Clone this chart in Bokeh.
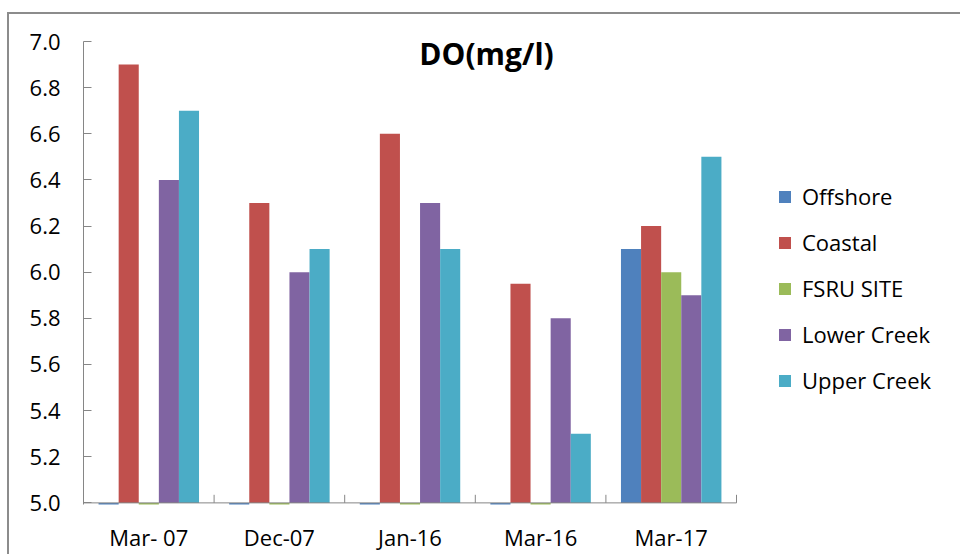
import numpy as np
from bokeh.plotting import figure
from bokeh.models import (Range1d, FixedTicker, NumeralTickFormatter, Label,
                          Legend, LegendItem)
from bokeh.embed import file_html
from bokeh.resources import INLINE

# Dissolved oxygen (mg/l) by survey and sampling zone; 0 = not sampled
categories = ["Mar- 07", "Dec-07", "Jan-16", "Mar-16", "Mar-17"]
offshore = [0, 0, 0, 0, 6.1]
coastal = [6.9, 6.3, 6.6, 5.95, 6.2]
fsru_site = [0, 0, 0, 0, 6.0]
lower_creek = [6.4, 6.0, 6.3, 5.8, 5.9]
upper_creek = [6.7, 6.1, 6.1, 5.3, 6.5]
series_names = ["Offshore", "Coastal", "FSRU SITE", "Lower Creek", "Upper Creek"]
colors = ["#4F81BD", "#C0504D", "#9BBB59", "#8064A2", "#4BACC6"]
y_ticks = [5.0, 5.2, 5.4, 5.6, 5.8, 6.0, 6.2, 6.4, 6.6, 6.8, 7.0]

series = [offshore, coastal, fsru_site, lower_creek, upper_creek]
FONT = "Open Sans"
FONT_SIZE = "22px"
AXIS_GREY = "#868686"
BASE = 5.0

# the bars occupy 653 px; the frame continues to the right to hold the legend
BAR_AREA_PX = 653
FRAME_W = 865
x_end = len(categories) * FRAME_W / BAR_AREA_PX

# the chart area is framed on its left and top by a grey border
p = figure(frame_width=FRAME_W, frame_height=463, output_backend="svg",
           toolbar_location=None,
           x_range=Range1d(0, x_end), y_range=Range1d(4.993, 7.0),
           min_border_left=74, min_border_right=12, min_border_top=27,
           min_border_bottom=40,
           styles={"margin-left": "7px", "margin-top": "12px",
                   "border-left": "2px solid #8c8c8c",
                   "border-top": "2px solid #8c8c8c"})
p.outline_line_color = None
p.grid.visible = False
p.background_fill_color = "white"
p.border_fill_color = "white"

# clustered bars: 5 bars per category, gap of 1.5 bar widths
n = len(series)
bw = 1.0 / (n + 1.5)
centers = np.arange(len(categories)) + 0.5
renderers = []
for j, (vals, col) in enumerate(zip(series, colors)):
    xs = centers + (j - (n - 1) / 2) * bw
    r = p.vbar(x=xs, top=vals, bottom=BASE, width=bw, fill_color=col,
               line_color=None)
    renderers.append(r)

# baseline at 5.0 across the categories, with separator ticks
p.segment(x0=[0], x1=[len(categories)], y0=[BASE], y1=[BASE],
          line_color=AXIS_GREY, line_width=1)
bounds = np.arange(1, len(categories) + 1)
p.segment(x0=bounds, x1=bounds, y0=[BASE] * len(bounds),
          y1=[BASE + 0.035] * len(bounds), line_color=AXIS_GREY, line_width=1)

# y axis
yax = p.yaxis[0]
yax.ticker = FixedTicker(ticks=y_ticks)
yax.formatter = NumeralTickFormatter(format="0.0")
yax.axis_line_color = AXIS_GREY
yax.major_tick_line_color = AXIS_GREY
yax.major_tick_in = 8
yax.major_tick_out = 0
yax.minor_tick_line_color = None
yax.major_label_standoff = 23
yax.major_label_text_font = FONT
yax.major_label_text_font_size = FONT_SIZE
yax.major_label_text_color = "#000000"

# x axis
xax = p.xaxis[0]
xax.ticker = FixedTicker(ticks=list(centers))
xax.major_label_overrides = {float(c): lab for c, lab in zip(centers, categories)}
xax.axis_line_color = None
xax.major_tick_line_color = None
xax.minor_tick_line_color = None
xax.major_label_standoff = 11
xax.major_label_text_font = FONT
xax.major_label_text_font_size = FONT_SIZE
xax.major_label_text_color = "#000000"

# chart title inside the plot area
p.add_layout(Label(x=3.086, y=6.948, text="DO(mg/l)", text_align="center",
                   text_baseline="middle", text_font=FONT,
                   text_font_size="30px", text_font_style="bold",
                   text_color="#000000"))

# legend to the right of the bars
legend = Legend(items=[LegendItem(label=nm, renderers=[r])
                       for nm, r in zip(series_names, renderers)],
                location=(694, 109), orientation="vertical",
                glyph_width=15, glyph_height=15, label_height=30,
                label_standoff=10, spacing=16, padding=0, margin=0,
                border_line_color=None, background_fill_alpha=0,
                label_text_font=FONT, label_text_font_size=FONT_SIZE,
                label_text_color="#000000")
p.add_layout(legend, "center")

open("out.html", "w").write(file_html(p, INLINE))
